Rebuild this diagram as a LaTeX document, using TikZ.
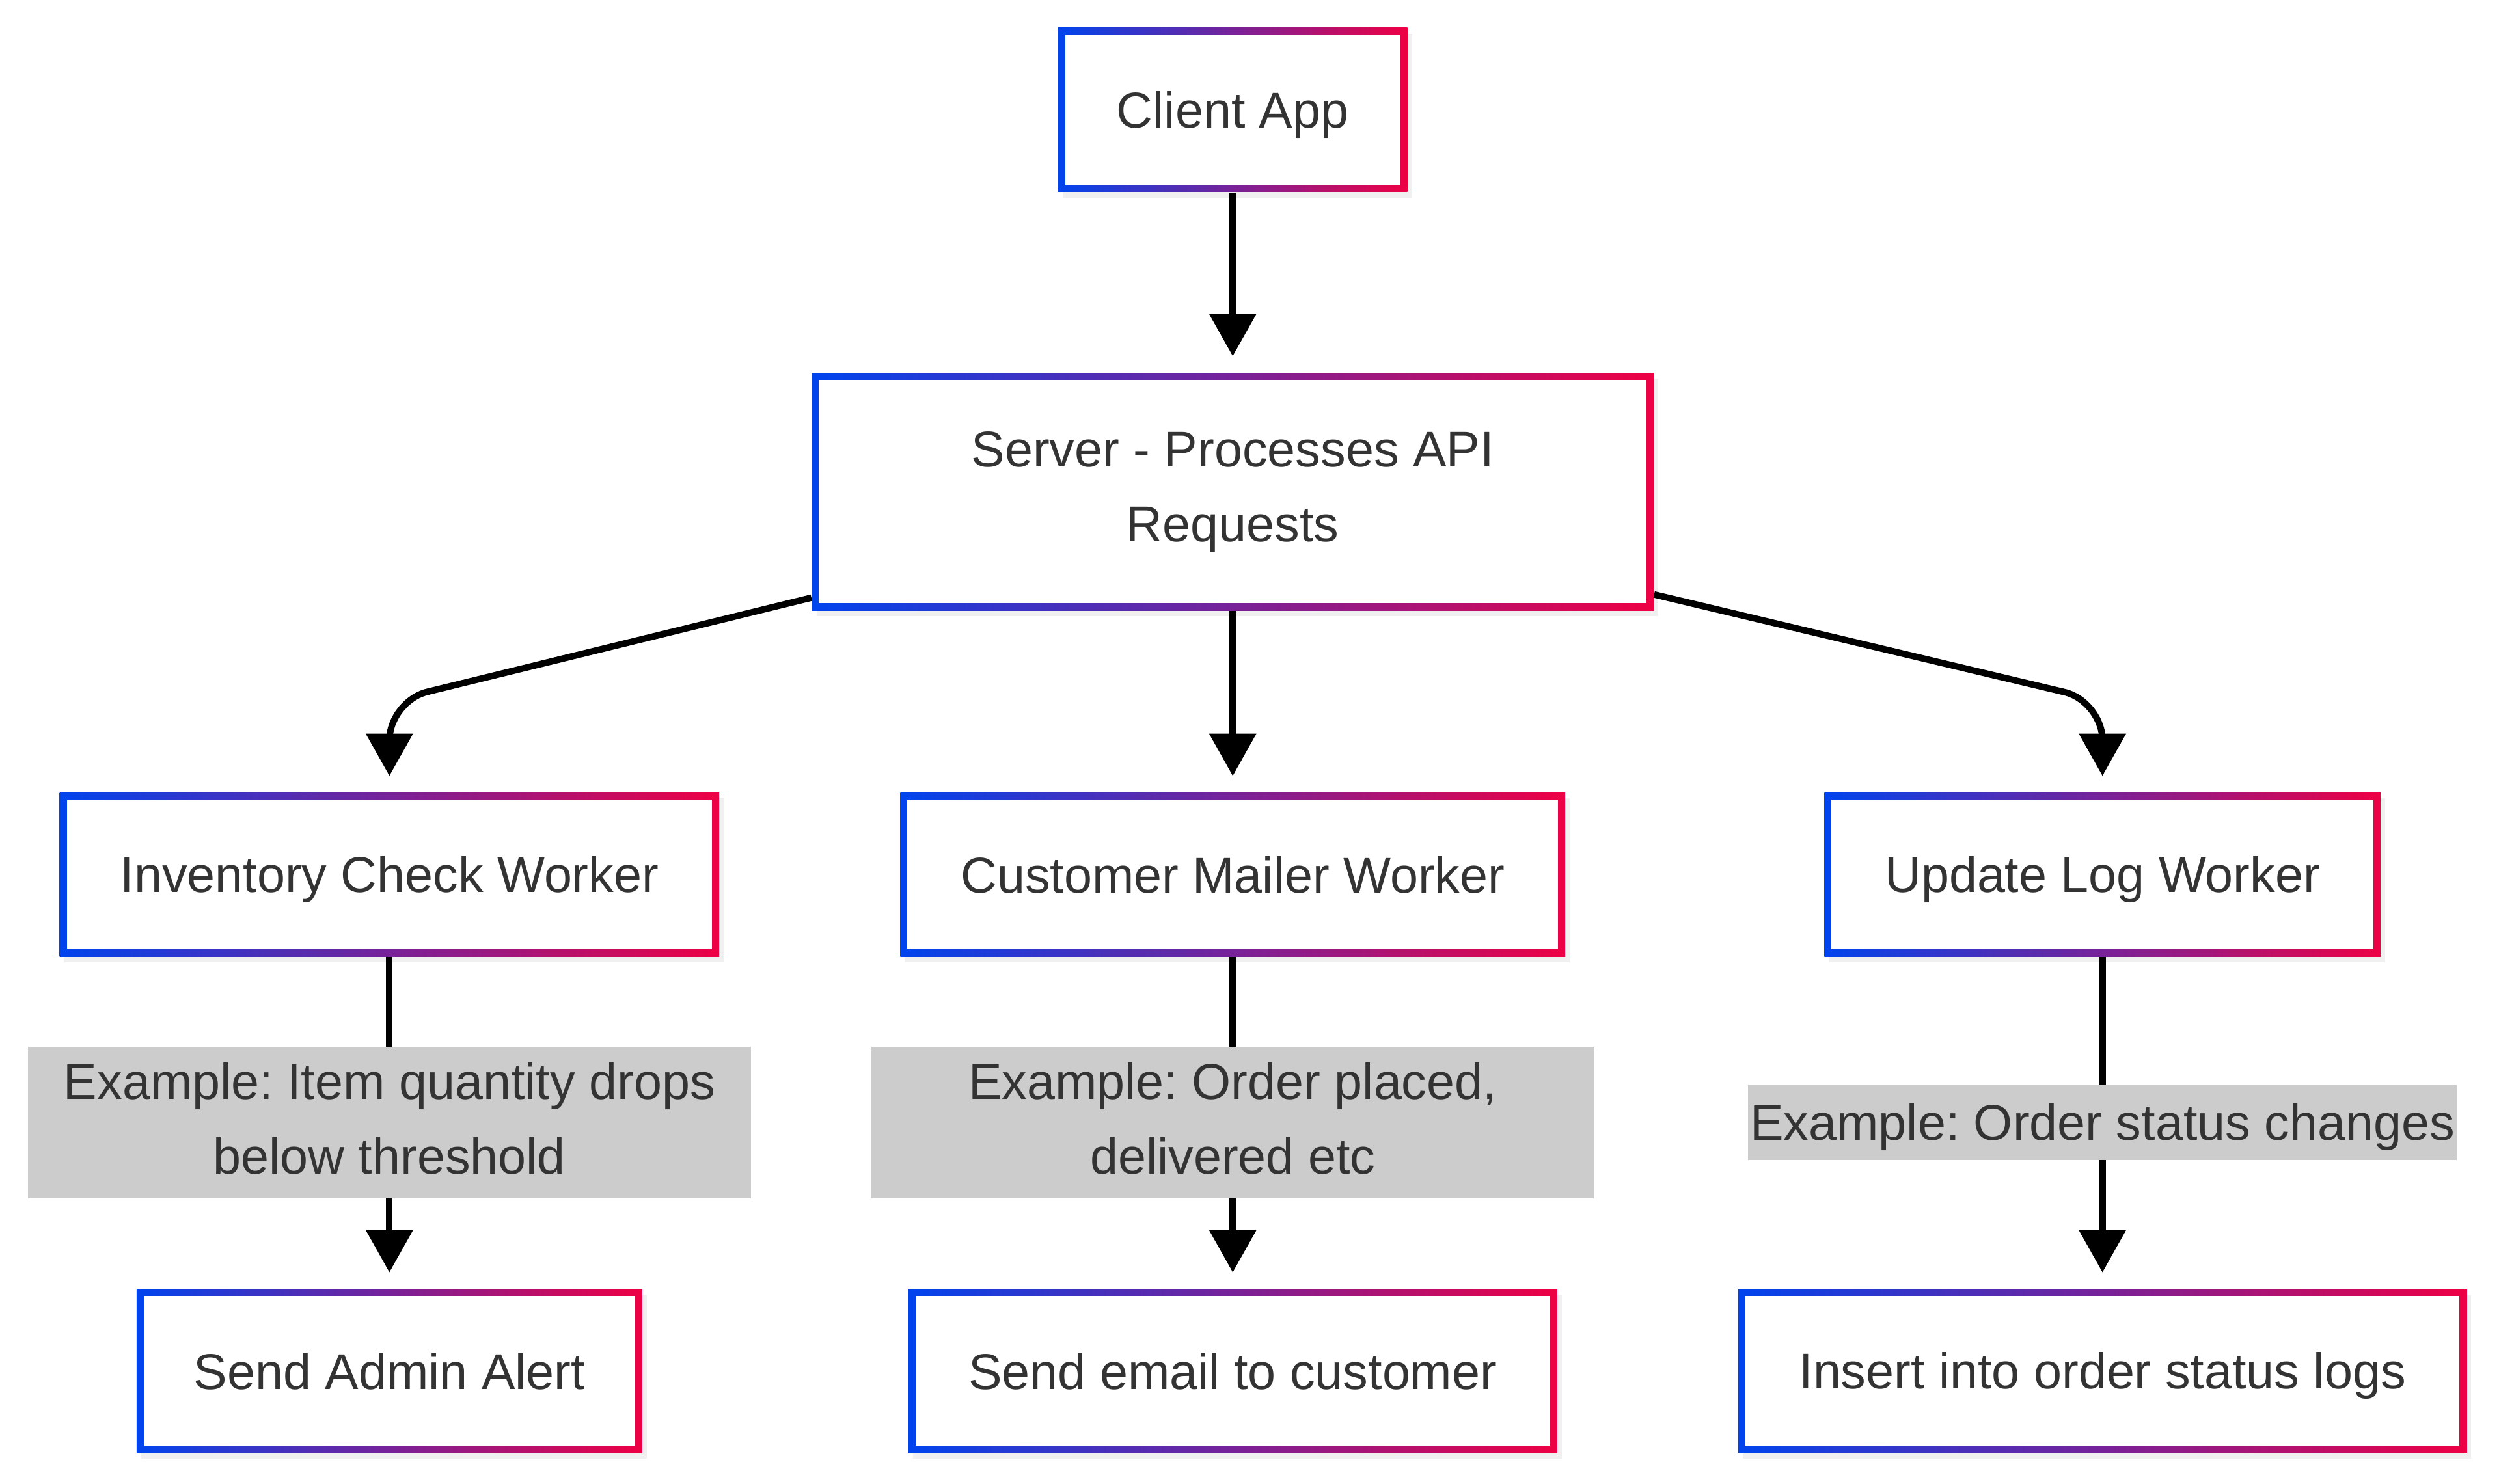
\documentclass[tikz,border=0pt]{standalone}
\usepackage{fontspec}
\setmainfont{Liberation Sans}
\usepackage{xcolor}
\usetikzlibrary{positioning, arrows.meta, shadows}
\frenchspacing

\definecolor{edgeblue}{RGB}{0,68,238}
\definecolor{edgered}{RGB}{238,0,68}
\definecolor{ink}{HTML}{333333}
\definecolor{notegray}{HTML}{CCCCCC}

% strut that fixes the vertical place of the text
\newcommand{\capstrut}{\rule[-4pt]{0pt}{24pt}}

\begin{document}
\begin{tikzpicture}[
		>={Triangle[width=0.7cm,length=0.65cm]},
		card/.style={minimum height=2.52cm, inner sep=0pt, text=ink, align=center,
			font=\fontsize{22pt}{32.7pt}\selectfont,
			execute at begin node=\capstrut, execute at end node=\capstrut,
			drop shadow={shadow xshift=0.07cm, shadow yshift=-0.09cm, opacity=0.12},
			path picture={
				\shade[left color=edgeblue, right color=edgered]
				(path picture bounding box.south west) rectangle (path picture bounding box.north east);
				\fill[white]
				([shift={(0.11cm,0.11cm)}]path picture bounding box.south west) rectangle
				([shift={(-0.11cm,-0.11cm)}]path picture bounding box.north east);
			}},
		note/.style={fill=notegray, text=ink, inner sep=0pt, align=center,
			font=\fontsize{22pt}{32.7pt}\selectfont,
			execute at begin node=\capstrut, execute at end node=\capstrut},
		flow/.style={->, line width=0.1cm, shorten >=0.25cm}
		]
		
		% ==========================================
		% CLIENT AND SERVER
		% ==========================================
		\node[card, minimum width=5.37cm] (client) {Client App};
		
		\node[card, minimum width=12.94cm, minimum height=3.65cm, below=2.77cm of client] (server) {Server - Processes API\\Requests};
		
		% ==========================================
		% WORKERS
		% ==========================================
		\node[card, minimum width=10.22cm, below=2.79cm of server] (mailer) {Customer Mailer Worker};
		\node[card, minimum width=10.14cm, left=2.77cm of mailer] (inventory) {Inventory Check Worker};
		\node[card, minimum width=8.55cm, right=3.97cm of mailer] (updatelog) {Update Log Worker};
		
		% ==========================================
		% TASKS
		% ==========================================
		\node[card, minimum width=7.77cm, below=5.10cm of inventory] (alert) {Send Admin Alert};
		\node[card, minimum width=9.97cm, below=5.10cm of mailer] (email) {Send email to customer};
		\node[card, minimum width=11.20cm, below=5.10cm of updatelog] (insertlog) {Insert into order status logs};
		
		% ==========================================
		% CONNECTORS
		% ==========================================
		\draw[flow] (client) -- (server);
		\draw[flow] (server) -- (mailer);
		\draw[flow, rounded corners=0.6cm] ([yshift=0.2cm]server.south west) -- ([yshift=1.4cm]inventory.north) -- (inventory.north);
		\draw[flow, rounded corners=0.6cm] ([yshift=0.25cm]server.south east) -- ([yshift=1.4cm]updatelog.north) -- (updatelog.north);
		
		\draw[flow] (inventory) -- node[note, minimum width=11.12cm, minimum height=2.33cm] (invnote) {Example: Item quantity drops\\below threshold} (alert);
		\draw[flow] (mailer) -- node[note, minimum width=11.10cm, minimum height=2.33cm] (mailnote) {Example: Order placed,\\delivered etc} (email);
		\draw[flow] (updatelog) -- node[note, minimum width=10.90cm, minimum height=1.15cm] (lognote) {Example: Order status changes} (insertlog);
		
		% page frame
		\useasboundingbox (-18.95cm,1.69cm) rectangle (19.465cm,-21.12cm);
		
	\end{tikzpicture}
\end{document}
